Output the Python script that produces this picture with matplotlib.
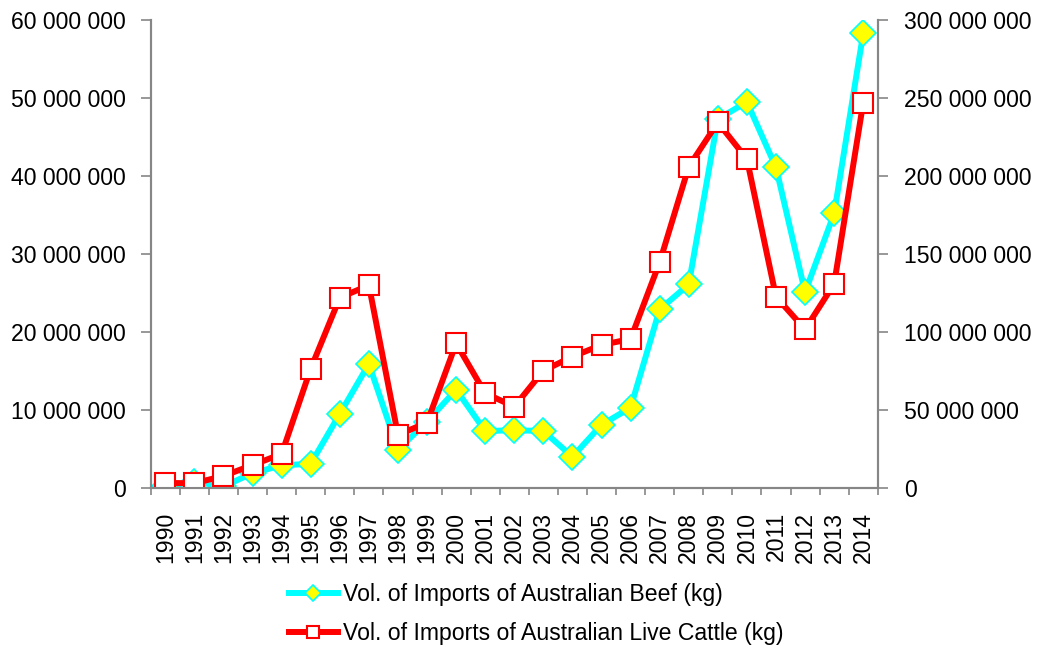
import numpy as np
import matplotlib
matplotlib.use("Agg")
import matplotlib.pyplot as plt
from matplotlib.ticker import FuncFormatter, FixedLocator

plt.rcParams['font.family'] = ['Liberation Sans', 'DejaVu Sans']

years = list(range(1990, 2015))
beef_kg = [0.2e6, 0.8e6, 0.2e6, 1.9e6, 2.9e6, 3.1e6, 9.5e6, 15.9e6, 4.9e6, 8.5e6,
           12.6e6, 7.3e6, 7.4e6, 7.3e6, 4.0e6, 8.1e6, 10.3e6, 22.9e6, 26.1e6, 47.3e6,
           49.5e6, 41.1e6, 25.1e6, 35.2e6, 58.3e6]
cattle_kg = [3.2e6, 3.0e6, 7.7e6, 14.7e6, 21.8e6, 76.5e6, 122e6, 130e6, 34e6, 41.9e6,
             92.7e6, 60.7e6, 52.1e6, 75.2e6, 84.2e6, 91.7e6, 95.5e6, 144.7e6, 206e6, 234.4e6,
             210.9e6, 122.6e6, 101.7e6, 130.8e6, 247e6]
beef_label = "Vol. of Imports of Australian Beef (kg)"
cattle_label = "Vol. of Imports of Australian Live Cattle (kg)"

grey = "#868686"
fs = 16.6


def spaced(v, pos):
    return f"{int(round(v)):,}".replace(",", " ")


fig = plt.figure(figsize=(10.4, 6.48), dpi=100)
ax = fig.add_axes([0.145, 0.247, 0.699, 0.722])
ax2 = ax.twinx()

x = np.arange(len(years))
l1, = ax.plot(x, beef_kg, color="#00FFFF", lw=4.3, marker="D", ms=13,
              mfc="#FFFF00", mec="#00FFFF", mew=1.2, label=beef_label)
l2, = ax2.plot(x, cattle_kg, color="#FF0000", lw=4.3, marker="s", ms=14,
               mfc="white", mec="#FF0000", mew=1.5, label=cattle_label)

ax.set_xlim(-0.5, len(years) - 0.5)
ax.set_ylim(0, 60e6)
ax2.set_ylim(0, 300e6)
ax.set_yticks(np.arange(0, 60e6 + 1, 10e6))
ax2.set_yticks(np.arange(0, 300e6 + 1, 50e6))
ax.yaxis.set_major_formatter(FuncFormatter(spaced))
ax2.yaxis.set_major_formatter(FuncFormatter(spaced))

# tick marks sit between the categories, labels sit on them
ax.xaxis.set_major_locator(FixedLocator(np.arange(-0.5, len(years), 1.0)))
ax.xaxis.set_minor_locator(FixedLocator(x))
ax.set_xticklabels([])
ax.set_xticklabels([str(y) for y in years], minor=True, rotation=90)
ax.tick_params(axis="x", which="major", length=5, color=grey, width=1.2)
ax.tick_params(axis="x", which="minor", length=0, pad=17, labelsize=fs)

ax.tick_params(axis="y", length=7, color=grey, width=1.2, labelsize=fs, pad=11)
ax2.tick_params(axis="y", length=7, color=grey, width=1.2, labelsize=fs, pad=12)

for a in (ax, ax2):
    a.spines["top"].set_visible(False)
    for s in ("left", "right", "bottom"):
        a.spines[s].set_color(grey)
        a.spines[s].set_linewidth(1.5)

fig.legend(handles=[l1, l2], loc="center left", bbox_to_anchor=(0.278, 0.0525),
           frameon=False, fontsize=fs, handlelength=2.1, handletextpad=0.25,
           labelspacing=0.68, borderaxespad=0, borderpad=0, markerscale=0.6)

fig.savefig("out.png", dpi=100)
